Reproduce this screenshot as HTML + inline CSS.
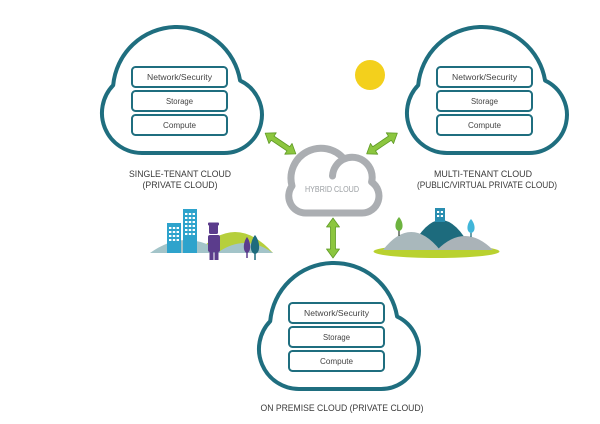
<!DOCTYPE html>
<html>
<head>
<meta charset="utf-8">
<style>
  html,body{margin:0;padding:0;background:#fff;}
  svg{display:block;}
  text{font-family:"Liberation Sans",sans-serif;}
</style>
</head>
<body>
<svg width="600" height="424" viewBox="0 0 600 424" xmlns="http://www.w3.org/2000/svg">
  <defs>
    <path id="cloud" d="M 42,128 A 40,40 0 0 1 13.2,60.2 A 64,64 0 0 1 140.1,55.6 A 38,38 0 0 1 124,128 Z"
          fill="#fff" stroke="#1f6e7f" stroke-width="4" stroke-linejoin="round"/>
    <g id="boxes">
      <rect x="0" y="0" width="95" height="20" rx="3.5" fill="#fff" stroke="#1f6e7f" stroke-width="2"/>
      <rect x="0" y="24" width="95" height="20" rx="3.5" fill="#fff" stroke="#1f6e7f" stroke-width="2"/>
      <rect x="0" y="48" width="95" height="20" rx="3.5" fill="#fff" stroke="#1f6e7f" stroke-width="2"/>
      <text x="47.5" y="13" font-size="8" fill="#444" text-anchor="middle" textLength="65" lengthAdjust="spacingAndGlyphs">Network/Security</text>
      <text x="47.5" y="37" font-size="8" fill="#444" text-anchor="middle" textLength="27" lengthAdjust="spacingAndGlyphs">Storage</text>
      <text x="47.5" y="61" font-size="8" fill="#444" text-anchor="middle" textLength="33" lengthAdjust="spacingAndGlyphs">Compute</text>
    </g>
    <polygon id="arr37" points="-18.5,0 -9.5,-6.5 -9.5,-2.5 9.5,-2.5 9.5,-6.5 18.5,0 9.5,6.5 9.5,2.5 -9.5,2.5 -9.5,6.5"
             fill="#8cc63f" stroke="#5f9a26" stroke-width="0.8" stroke-linejoin="round"/>
    <polygon id="arr40" points="-20,0 -11,-6.5 -11,-2.5 11,-2.5 11,-6.5 20,0 11,6.5 11,2.5 -11,2.5 -11,6.5"
             fill="#8cc63f" stroke="#5f9a26" stroke-width="0.8" stroke-linejoin="round"/>
  </defs>

  <!-- Sun -->
  <circle cx="370" cy="75" r="15" fill="#f3d01c"/>

  <!-- Left cloud -->
  <use href="#cloud" transform="translate(100,25)"/>
  <use href="#boxes" transform="translate(132,67)"/>
  <text x="180" y="177" font-size="9" fill="#3a3a3a" text-anchor="middle" textLength="102" lengthAdjust="spacingAndGlyphs">SINGLE-TENANT CLOUD</text>
  <text x="180" y="188" font-size="9" fill="#3a3a3a" text-anchor="middle" textLength="75" lengthAdjust="spacingAndGlyphs">(PRIVATE CLOUD)</text>

  <!-- Right cloud -->
  <use href="#cloud" transform="translate(405,25)"/>
  <use href="#boxes" transform="translate(437,67)"/>
  <text x="483" y="177" font-size="9" fill="#3a3a3a" text-anchor="middle" textLength="98" lengthAdjust="spacingAndGlyphs">MULTI-TENANT CLOUD</text>
  <text x="487" y="188" font-size="9" fill="#3a3a3a" text-anchor="middle" textLength="140" lengthAdjust="spacingAndGlyphs">(PUBLIC/VIRTUAL PRIVATE CLOUD)</text>

  <!-- Bottom cloud -->
  <use href="#cloud" transform="translate(257,261)"/>
  <use href="#boxes" transform="translate(289,303)"/>
  <text x="342" y="411" font-size="9" fill="#3a3a3a" text-anchor="middle" textLength="163" lengthAdjust="spacingAndGlyphs">ON PREMISE CLOUD (PRIVATE CLOUD)</text>

  <!-- Hybrid cloud -->
  <path d="M 306,213 A 17,17 0 0 1 292,186 A 30,30 0 0 1 344,159 A 20,20 0 0 1 371.6,182 A 17,17 0 0 1 362,213 Z"
        fill="#fff" stroke="#abaeb2" stroke-width="7" stroke-linejoin="round"/>
  <path d="M 332.5,176 A 20,20 0 0 1 344,159" fill="none" stroke="#abaeb2" stroke-width="7" stroke-linecap="round"/>
  <text x="332" y="192" font-size="8" fill="#9a9ea2" text-anchor="middle" textLength="54" lengthAdjust="spacingAndGlyphs">HYBRID CLOUD</text>

  <!-- Arrows -->
  <use href="#arr37" transform="translate(280.5,143.5) rotate(34)"/>
  <use href="#arr37" transform="translate(382,143.5) rotate(-34)"/>
  <use href="#arr40" transform="translate(333,238) rotate(90)"/>

  <!-- Left scene -->
  <path d="M 197,253 Q 235,211 273,253 Z" fill="#b6cf3c"/>
  <path d="M 150,253 Q 186,227 223,253 Z" fill="#a3c4c9"/>
  <path d="M 217,253 Q 245,233 273,253 Z" fill="#a3c4c9"/>
  <!-- buildings -->
  <rect x="167" y="223" width="14" height="30" fill="#2ea3cc"/>
  <rect x="183" y="209" width="14" height="44" fill="#2ea3cc"/>
  <g fill="#fff">
    <rect x="169" y="227" width="2.4" height="2"/><rect x="172.8" y="227" width="2.4" height="2"/><rect x="176.6" y="227" width="2.4" height="2"/>
    <rect x="169" y="231" width="2.4" height="2"/><rect x="172.8" y="231" width="2.4" height="2"/><rect x="176.6" y="231" width="2.4" height="2"/>
    <rect x="169" y="235" width="2.4" height="2"/><rect x="172.8" y="235" width="2.4" height="2"/><rect x="176.6" y="235" width="2.4" height="2"/>
    <rect x="169" y="239" width="2.4" height="2"/><rect x="172.8" y="239" width="2.4" height="2"/><rect x="176.6" y="239" width="2.4" height="2"/>
    <rect x="185" y="213" width="2.4" height="2"/><rect x="188.8" y="213" width="2.4" height="2"/><rect x="192.6" y="213" width="2.4" height="2"/>
    <rect x="185" y="217" width="2.4" height="2"/><rect x="188.8" y="217" width="2.4" height="2"/><rect x="192.6" y="217" width="2.4" height="2"/>
    <rect x="185" y="221" width="2.4" height="2"/><rect x="188.8" y="221" width="2.4" height="2"/><rect x="192.6" y="221" width="2.4" height="2"/>
    <rect x="185" y="225" width="2.4" height="2"/><rect x="188.8" y="225" width="2.4" height="2"/><rect x="192.6" y="225" width="2.4" height="2"/>
    <rect x="185" y="229" width="2.4" height="2"/><rect x="188.8" y="229" width="2.4" height="2"/><rect x="192.6" y="229" width="2.4" height="2"/>
    <rect x="185" y="233" width="2.4" height="2"/><rect x="188.8" y="233" width="2.4" height="2"/><rect x="192.6" y="233" width="2.4" height="2"/>
  </g>
  <!-- person -->
  <g fill="#5b3c8c">
    <rect x="209" y="224" width="9" height="10" rx="1.5"/>
    <rect x="208" y="222.5" width="11" height="3" rx="1"/>
    <rect x="208" y="235" width="12" height="17" rx="2"/>
    <rect x="209.5" y="250" width="4" height="10"/>
    <rect x="214.5" y="250" width="4" height="10"/>
  </g>
  <!-- trees -->
  <line x1="247" y1="248" x2="247" y2="258" stroke="#5b3c8c" stroke-width="1.5"/>
  <path d="M 247,237 C 251,242 251.5,252 247,253 C 242.5,252 243,242 247,237 Z" fill="#5b3c8c"/>
  <line x1="255" y1="250" x2="255" y2="260" stroke="#1d6b7d" stroke-width="1.5"/>
  <path d="M 255,235 C 260,241 261,253 255,254 C 249,253 250,241 255,235 Z" fill="#1d6b7d"/>

  <!-- Right scene -->
  <ellipse cx="436.5" cy="251.5" rx="63" ry="6.5" fill="#b9d12f"/>
  <path d="M 410,250 Q 441,190 472,250 Z" fill="#1d6b7d"/>
  <path d="M 383,250 Q 411,214 440,250 Z" fill="#a9b8bc"/>
  <path d="M 437,250 Q 465,222 493,250 Z" fill="#aab3b8"/>
  <rect x="435" y="208" width="10" height="14" fill="#2a8eb0"/>
  <g fill="#fff">
    <rect x="437" y="211" width="2.2" height="2"/><rect x="440.8" y="211" width="2.2" height="2"/>
    <rect x="437" y="215" width="2.2" height="2"/><rect x="440.8" y="215" width="2.2" height="2"/>
  </g>
  <line x1="399" y1="228" x2="399" y2="236" stroke="#3b4a3a" stroke-width="1.3"/>
  <path d="M 399,217 C 403.5,222 404,230 399,231 C 394,230 394.5,222 399,217 Z" fill="#6db33f"/>
  <line x1="471" y1="229" x2="471" y2="237" stroke="#1d6b7d" stroke-width="1.3"/>
  <path d="M 471,219 C 475.5,224 476,232 471,233 C 466,232 466.5,224 471,219 Z" fill="#41b6d9"/>
</svg>
</body>
</html>
